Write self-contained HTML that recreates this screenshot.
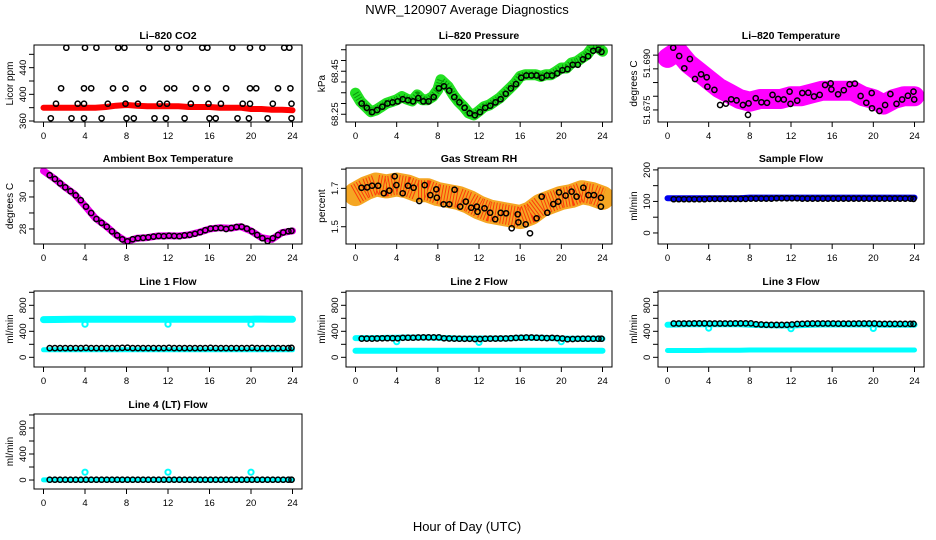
<!DOCTYPE html>
<html><head><meta charset="utf-8"><style>
html,body{margin:0;padding:0;background:#fff;}
svg{display:block;font-family:"Liberation Sans",Arial,sans-serif;}
</style></head><body>
<svg id="chart" width="936" height="540" viewBox="0 0 936 540" xmlns="http://www.w3.org/2000/svg">
<rect width="936" height="540" fill="#fff"/>
<text x="467" y="14" text-anchor="middle" font-size="13">NWR_120907  Average Diagnostics</text>
<text x="467" y="531" text-anchor="middle" font-size="13">Hour of Day (UTC)</text>
</svg>
<script>
var xTicks = [0,4,8,12,16,20,24];
var hHalf = [0.6,1.1,1.6,2.1,2.6,3.1,3.6,4.1,4.6,5.1,5.6,6.1,6.6,7.1,7.6,8.1,8.6,9.1,9.6,10.1,10.6,11.1,11.6,12.1,12.6,13.1,13.6,14.1,14.6,15.1,15.6,16.1,16.6,17.1,17.6,18.1,18.6,19.1,19.6,20.1,20.6,21.1,21.6,22.1,22.6,23.1,23.6,23.9];
var hHourly = [0,1,2,3,4,5,6,7,8,9,10,11,12,13,14,15,16,17,18,19,20,21,22,23,24];

var co2Band = [380,380,380,380,380,380,381,383,384,383,382,382,382,382,381,381,381,380,380,380,378,378,377,377,376];
var co2Hours = [2.2,4.0,5.1,7.2,7.8,10.2,11.9,13.1,15.3,15.8,18.2,19.9,21.1,23.2,23.7, 1.7,3.9,4.6,6.7,7.9,9.6,11.9,12.6,14.7,15.8,17.6,19.9,20.5,22.6,23.8, 1.2,3.3,3.9,6.2,7.9,9.1,11.2,11.9,14.2,15.9,17.1,19.2,19.9,22.1,23.9, 0.7,2.7,3.9,5.6,8.0,8.7,10.7,11.8,13.6,16.0,16.6,18.7,19.8,21.6,23.9];
var co2Values = [470,470,470,470,470,470,470,470,470,470,470,470,470,470,470, 409,409,409,409,409,409,409,409,409,409,409,409,409,409,409, 386,386,386,386,386,386,386,386,386,386,386,386,386,386,386, 364,364,364,364,364,364,364,364,364,364,364,364,364,364,364];

var presBandHours = [0,0.5,1,1.5,2,2.5,3,3.5,4,4.5,5,5.5,6,6.5,7,7.5,8,8.3,9,9.5,10,10.5,11,11.5,12,12.5,13,13.5,14,14.5,15,15.5,16,16.5,17,17.5,18,18.5,19,19.5,20,20.5,21,21.5,22,22.5,23,23.5,24];
var presBand = [68.348,68.309,68.285,68.262,68.270,68.285,68.301,68.309,68.317,68.332,68.320,68.312,68.340,68.317,68.317,68.332,68.364,68.410,68.379,68.340,68.309,68.285,68.256,68.247,68.265,68.285,68.293,68.309,68.325,68.348,68.371,68.395,68.426,68.434,68.434,68.434,68.426,68.434,68.434,68.449,68.465,68.465,68.489,68.495,68.512,68.528,68.559,68.562,68.543];
var presValues = [68.30,68.28,68.26,68.27,68.285,68.30,68.305,68.31,68.32,68.315,68.31,68.325,68.31,68.31,68.33,68.37,68.38,68.36,68.33,68.305,68.28,68.255,68.245,68.26,68.28,68.29,68.305,68.32,68.345,68.37,68.39,68.42,68.43,68.43,68.43,68.42,68.43,68.43,68.44,68.455,68.46,68.48,68.48,68.505,68.52,68.545,68.55,68.54];

var tempBand = [51.694,51.6965,51.692,51.689,51.686,51.683,51.681,51.679,51.678,51.679,51.679,51.679,51.680,51.680,51.681,51.682,51.682,51.682,51.682,51.680,51.679,51.677,51.679,51.680,51.680];
var tempHours = [0.55,1.14,2.18,1.63,2.67,3.26,3.81,3.88,4.56,5.11,5.67,6.19,6.71,7.33,7.88,7.82,8.57,9.12,9.67,10.2,10.75,11.3,11.86,11.95,12.6,13.1,13.68,14.23,14.79,15.31,15.86,15.93,16.58,17.13,17.69,18.21,18.76,19.32,19.84,19.87,20.59,21.14,21.66,22.25,22.8,23.36,23.9,23.97];
var tempValues = [51.6977,51.6947,51.6936,51.6902,51.6863,51.6880,51.6869,51.6835,51.6823,51.6768,51.6773,51.6789,51.6785,51.6768,51.6774,51.6732,51.6793,51.6778,51.6776,51.6805,51.6790,51.6788,51.6817,51.6772,51.6784,51.6812,51.6813,51.6799,51.6805,51.6841,51.6847,51.6825,51.6807,51.6822,51.6844,51.6846,51.6801,51.6776,51.6812,51.6756,51.6746,51.6768,51.6808,51.6772,51.6788,51.6802,51.6817,51.6788];

var ambBand = [31.63,31.17,30.64,30.17,29.44,28.67,28.19,27.63,27.21,27.42,27.46,27.56,27.58,27.56,27.63,27.79,28.0,28.08,28.04,28.15,27.88,27.46,27.35,27.77,27.88];
var ambValues = [31.36,31.12,30.85,30.6,30.36,30.1,29.8,29.4,29.0,28.62,28.38,28.14,27.85,27.6,27.35,27.22,27.36,27.42,27.44,27.47,27.52,27.56,27.55,27.58,27.56,27.55,27.6,27.63,27.7,27.8,27.92,28.02,28.05,28.06,28.0,28.06,28.12,28.14,28.02,27.85,27.62,27.42,27.25,27.42,27.62,27.78,27.86,27.88];

var rhBand = [1.67,1.70,1.72,1.71,1.72,1.71,1.69,1.69,1.67,1.66,1.65,1.63,1.60,1.58,1.57,1.56,1.55,1.57,1.61,1.63,1.65,1.66,1.68,1.67,1.65];
var rhHours = [0.58,1.13,1.61,2.2,2.75,3.29,3.81,3.97,4.59,5.1,5.65,6.2,6.72,7.27,7.85,7.91,8.56,9.11,9.63,10.17,10.72,11.24,11.79,11.85,12.53,13.08,13.57,14.11,14.63,15.18,15.76,15.83,16.54,16.96,17.6,18.09,18.64,19.22,19.7,19.77,20.41,21.0,21.48,22.13,22.64,23.16,23.84,23.84];
var rhValues = [1.7035,1.705,1.714,1.714,1.674,1.688,1.7625,1.717,1.674,1.714,1.7035,1.634,1.717,1.665,1.695,1.651,1.617,1.617,1.693,1.605,1.631,1.599,1.605,1.578,1.596,1.573,1.539,1.572,1.570,1.492,1.565,1.523,1.512,1.466,1.544,1.657,1.573,1.618,1.631,1.679,1.662,1.683,1.657,1.7035,1.665,1.665,1.651,1.605];

var sampleBand = [110,110,110,110,110,110,110,110,112,112,112,112,112,112,112,112,112,112,112,112,112,112,112,112,112];
var sampleValues = [107,107,107,107,107,107,107,108,108,108,108,108,108,108,108,109,109,109,109,109,110,110,110,110,110,109,109,109,109,109,109,109,109,109,109,109,109,109,109,109,109,109,109,109,109,109,109,108];

var line1Upper = [580,582,583,585,585,586,585,584,585,585,586,585,584,585,585,585,585,586,585,585,586,588,586,585,584];
var line1Lower = [115,115,115,115,115,115,115,115,115,115,115,115,115,115,115,115,115,115,115,115,115,115,115,115,115];
var line1Values = [142,142,142,142,142,142,142,145,142,142,142,142,142,142,145,148,142,142,142,142,142,142,142,145,142,142,142,142,142,142,142,145,142,142,142,142,142,142,142,145,142,142,142,142,142,142,142,145];
var dipHours = [4,12,20];
var line1Dips = [510,510,510];

var line2Upper = [295,295,295,298,300,305,305,305,300,295,290,290,290,290,290,292,300,300,300,295,290,285,285,285,285];
var line2Lower = [100,100,100,100,100,100,100,100,100,100,100,100,100,100,100,100,100,100,100,100,100,100,100,100,100];
var line2Values = [288,288,288,290,292,294,294,292,300,302,302,304,306,306,306,306,292,290,288,286,284,284,282,282,286,288,288,290,290,294,298,302,304,304,302,298,296,300,296,290,278,282,284,286,286,286,286,286];
var line2Dips = [240,230,240];

var line3Upper = [500,505,508,510,510,510,510,508,500,495,492,490,490,495,500,505,505,505,505,505,505,500,500,500,500];
var line3Lower = [105,105,105,105,108,108,108,108,112,112,112,112,112,112,112,112,112,112,112,112,112,112,112,112,112];
var line3Values = [520,520,520,520,522,522,522,520,520,520,520,520,522,522,522,522,510,505,500,498,498,498,500,505,512,515,518,520,520,520,520,520,518,518,518,518,520,520,520,520,514,514,514,514,514,514,514,514];
var line3Dips = [450,440,445];

var line4Lower = [2,2,2,2,2,2,2,2,2,2,2,2,2,2,2,2,2,2,2,2,2,2,2,2,2];
var line4Values = [5,5,5,5,5,5,5,5,5,5,5,5,5,5,5,5,5,5,5,5,5,5,5,5,5,5,5,5,5,5,5,5,5,5,5,5,5,5,5,5,5,5,5,5,5,5,5,5];
var line4Spikes = [120,120,120];

var NS = "http://www.w3.org/2000/svg";
var svg = document.getElementById("chart");
function mk(tag, attrs, parent) {
  var e = document.createElementNS(NS, tag);
  for (var k in attrs) e.setAttribute(k, attrs[k]);
  (parent || svg).appendChild(e);
  return e;
}
var cols = [[34,302],[346,612],[658,924]];
var rows = [[45,122],[168,244],[291,367],[414,489]];

function makePanel(p) {
  var L = cols[p.col][0], R = cols[p.col][1], T = rows[p.row][0], B = rows[p.row][1];
  var g = mk("g", {});
  
  
  var x0 = L + 9.5, xs = (R - L - 19) / 24;
  function X(h) { return x0 + h * xs; }
  function Y(v) { return B - (v - p.ymin) / (p.ymax - p.ymin) * (B - T); }
  var clip = "clip" + p.name;
  var cp = mk("clipPath", {id: clip}, g);
  mk("rect", {x: L, y: T, width: R - L, height: B - T}, cp);
  var plot = mk("g", {"clip-path": "url(#" + clip + ")"}, g);
  (p.bands || []).forEach(function (b) {
    var pts = b.h.map(function (h, i) { return X(h).toFixed(1) + "," + Y(b.v[i]).toFixed(1); }).join(" ");
    var pl = mk("polyline", {points: pts, fill: "none", stroke: b.color, "stroke-width": b.w, "stroke-linejoin": "round", "stroke-linecap": "round"}, plot);
    
    
    if (b.dots) {
      var pd = mk("polyline", {points: pts, fill: "none", stroke: b.dots, "stroke-width": b.w - 4, "stroke-dasharray": "1 2", "stroke-linejoin": "round", opacity: "0.7"}, plot);
      
      
    }
  });
  (p.points || []).forEach(function (s) {
    s.h.forEach(function (h, i) {
      var c = mk("circle", {cx: X(h).toFixed(1), cy: Y(s.v[i]).toFixed(1), r: s.r || 2.6, fill: "none", stroke: s.color, "stroke-width": s.sw || 1.5}, plot);
      
      
    });
  });
  var box = mk("rect", {x: L, y: T, width: R - L, height: B - T, fill: "none", stroke: "#000", "stroke-width": 1}, g);
  
  
  var t = mk("text", {x: (L + R) / 2, y: T - 6, "text-anchor": "middle", "font-size": 10.5, "font-weight": "bold"}, g);
  t.textContent = p.title;
  
  
  mk("line", {x1: X(0), x2: X(24), y1: B, y2: B, stroke: "#000"}, g);
  xTicks.forEach(function (h) {
    mk("line", {x1: X(h), x2: X(h), y1: B, y2: B + 5, stroke: "#000"}, g);
    var tx = mk("text", {x: X(h), y: B + 17, "text-anchor": "middle", "font-size": 9.5}, g);
    tx.textContent = h;
    
    
  });
  mk("line", {x1: L, x2: L, y1: Y(p.yticks[0]), y2: Y(p.yticks[p.yticks.length - 1]), stroke: "#000"}, g);
  p.yticks.forEach(function (v) {
    mk("line", {x1: L - 5, x2: L, y1: Y(v), y2: Y(v), stroke: "#000"}, g);
  });
  p.ylabels.forEach(function (v, i) {
    var yy = Y(v), xx = L - 8;
    var ty = mk("text", {x: xx, y: yy, "text-anchor": "middle", "font-size": 9.5, transform: "rotate(-90 " + xx + " " + yy + ")"}, g);
    ty.textContent = p.ylabelText[i];
    
    
  });
  var yc = (T + B) / 2, xa = L - 21;
  var at = mk("text", {x: xa, y: yc, "text-anchor": "middle", "font-size": 10, transform: "rotate(-90 " + xa + " " + yc + ")"}, g);
  at.textContent = p.ytitle;
  
  
}

var flowTicks = [0,200,400,600,800,1000];
makePanel({name: "co2-panel", title: "Li\u2013820 CO2", col: 0, row: 0, ymin: 358.5, ymax: 474, yticks: [360,380,400,420,440,460], ylabels: [360,400,440], ylabelText: ["360","400","440"], ytitle: "Licor ppm",
  bands: [{h: hHourly, v: co2Band, color: "#ff0000", w: 6, label: "co2-band"}],
  points: [{h: co2Hours, v: co2Values, color: "#000", label: "co2-point"}]});
makePanel({name: "pressure-panel", title: "Li\u2013820 Pressure", col: 1, row: 0, ymin: 68.214, ymax: 68.572, yticks: [68.25,68.30,68.35,68.40,68.45,68.50,68.55], ylabels: [68.25,68.45], ylabelText: ["68.25","68.45"], ytitle: "kPa",
  bands: [{h: presBandHours, v: presBand, color: "#22e022", w: 11, dots: "#007700", label: "pressure-band"}],
  points: [{h: hHalf, v: presValues, color: "#000", label: "pressure-point"}]});
makePanel({name: "licor-temp-panel", title: "Li\u2013820 Temperature", col: 2, row: 0, ymin: 51.6706, ymax: 51.6987, yticks: [51.675,51.680,51.685,51.690,51.695], ylabels: [51.675,51.692], ylabelText: ["51.675","51.690"], ytitle: "degrees C",
  bands: [{h: hHourly, v: tempBand, color: "#ff00ff", w: 20, label: "temperature-band"}],
  points: [{h: tempHours, v: tempValues, color: "#000", label: "temperature-point"}]});
makePanel({name: "ambient-panel", title: "Ambient Box Temperature", col: 0, row: 1, ymin: 27.06, ymax: 31.81, yticks: [28,29,30,31], ylabels: [28,30], ylabelText: ["28","30"], ytitle: "degrees C",
  bands: [{h: hHourly, v: ambBand, color: "#ee00ee", w: 7, label: "ambient-band"}],
  points: [{h: hHalf, v: ambValues, color: "#000", label: "ambient-point"}]});
makePanel({name: "rh-panel", title: "Gas Stream RH", col: 1, row: 1, ymin: 1.41, ymax: 1.806, yticks: [1.5,1.6,1.7,1.8], ylabels: [1.5,1.7], ylabelText: ["1.5","1.7"], ytitle: "percent",
  bands: [{h: hHourly, v: rhBand, color: "#f5a623", w: 24, dots: "#ff1000", label: "rh-band"}],
  points: [{h: rhHours, v: rhValues, color: "#000", label: "rh-point"}]});
makePanel({name: "sample-flow-panel", title: "Sample Flow", col: 2, row: 1, ymin: -35, ymax: 206, yticks: [0,50,100,150,200], ylabels: [0,100,200], ylabelText: ["0","100","200"], ytitle: "ml/min",
  bands: [{h: hHourly, v: sampleBand, color: "#0000ee", w: 6, label: "sample-band"}],
  points: [{h: hHalf, v: sampleValues, color: "#000", label: "sample-point"}]});
makePanel({name: "line1-panel", title: "Line 1 Flow", col: 0, row: 2, ymin: -149, ymax: 1020, yticks: flowTicks, ylabels: [0,400,800], ylabelText: ["0","400","800"], ytitle: "ml/min",
  bands: [{h: hHourly, v: line1Upper, color: "#00ffff", w: 7, label: "line1-upper-band"}, {h: hHourly, v: line1Lower, color: "#00ffff", w: 5, label: "line1-lower-band"}],
  points: [{h: dipHours, v: line1Dips, color: "#00ffff", sw: 2, label: "line1-dip"}, {h: hHalf, v: line1Values, color: "#000", label: "line1-point"}]});
makePanel({name: "line2-panel", title: "Line 2 Flow", col: 1, row: 2, ymin: -149, ymax: 1020, yticks: flowTicks, ylabels: [0,400,800], ylabelText: ["0","400","800"], ytitle: "ml/min",
  bands: [{h: hHourly, v: line2Upper, color: "#00ffff", w: 6, label: "line2-upper-band"}, {h: hHourly, v: line2Lower, color: "#00ffff", w: 6, label: "line2-lower-band"}],
  points: [{h: dipHours, v: line2Dips, color: "#00ffff", sw: 2, label: "line2-dip"}, {h: hHalf, v: line2Values, color: "#000", label: "line2-point"}]});
makePanel({name: "line3-panel", title: "Line 3 Flow", col: 2, row: 2, ymin: -149, ymax: 1020, yticks: flowTicks, ylabels: [0,400,800], ylabelText: ["0","400","800"], ytitle: "ml/min",
  bands: [{h: hHourly, v: line3Upper, color: "#00ffff", w: 6, label: "line3-upper-band"}, {h: hHourly, v: line3Lower, color: "#00ffff", w: 5, label: "line3-lower-band"}],
  points: [{h: dipHours, v: line3Dips, color: "#00ffff", sw: 2, label: "line3-dip"}, {h: hHalf, v: line3Values, color: "#000", label: "line3-point"}]});
makePanel({name: "line4-panel", title: "Line 4 (LT) Flow", col: 0, row: 3, ymin: -138, ymax: 1015, yticks: flowTicks, ylabels: [0,400,800], ylabelText: ["0","400","800"], ytitle: "ml/min",
  bands: [{h: hHourly, v: line4Lower, color: "#00ffff", w: 5, label: "line4-band"}],
  points: [{h: dipHours, v: line4Spikes, color: "#00ffff", sw: 2, label: "line4-spike"}, {h: hHalf, v: line4Values, color: "#000", label: "line4-point"}]});
</script>
</body></html>
